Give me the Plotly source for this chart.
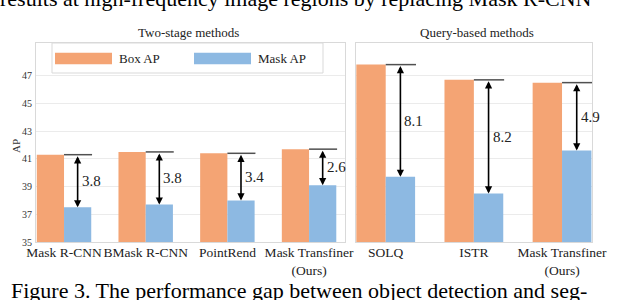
import plotly.graph_objects as go

# ---- data ----
two_stage_methods = ["Mask R-CNN", "BMask R-CNN", "PointRend", "Mask Transfiner<br>(Ours)"]
two_stage_box_ap = [41.3, 41.5, 41.4, 41.7]
two_stage_mask_ap = [37.5, 37.7, 38.0, 39.1]
two_stage_gap = ["3.8", "3.8", "3.4", "2.6"]

query_methods = ["SOLQ", "ISTR", "Mask Transfiner<br>(Ours)"]
query_box_ap = [47.8, 46.7, 46.5]
query_mask_ap = [39.7, 38.5, 41.6]
query_gap = ["8.1", "8.2", "4.9"]

y_ticks = [35, 37, 39, 41, 43, 45, 47]

# ---- style ----
W, H = 640, 300
ORANGE = "#F4A474"
BLUE = "#8DB9E2"
FONT = "Liberation Serif, Times New Roman, serif"
BW = 1 / 3.0

def px(x):
    return x / W

def py(y):
    return 1 - y / H

fig = go.Figure()

panels = [
    (two_stage_methods, two_stage_box_ap, two_stage_mask_ap, two_stage_gap, "x", "y"),
    (query_methods, query_box_ap, query_mask_ap, query_gap, "x2", "y2"),
]

annotations = []
shapes = []
for cats, box, mask, gap, xa, ya in panels:
    idx = list(range(len(cats)))
    fig.add_trace(go.Bar(x=idx, y=box, width=BW, offset=-BW, marker_color=ORANGE,
                         marker_line_width=0, name="Box AP", showlegend=False,
                         xaxis=xa, yaxis=ya, hoverinfo="skip"))
    fig.add_trace(go.Bar(x=idx, y=mask, width=BW, offset=0, marker_color=BLUE,
                         marker_line_width=0, name="Mask AP", showlegend=False,
                         xaxis=xa, yaxis=ya, hoverinfo="skip"))
    for i in idx:
        xc = i + BW / 2
        shapes.append(dict(type="line", xref=xa, yref=ya, x0=i, x1=i + BW * 1.03,
                           y0=box[i], y1=box[i], line=dict(color="#505050", width=1.5)))
        annotations.append(dict(x=xc, y=mask[i], ax=xc, ay=box[i], xref=xa, yref=ya,
                                axref=xa, ayref=ya, text="", showarrow=True,
                                arrowhead=2, startarrowhead=2, arrowside="end+start",
                                arrowsize=0.9, startarrowsize=0.9, arrowwidth=1.6,
                                arrowcolor="black", standoff=0, startstandoff=0))
        annotations.append(dict(x=xc, y=(box[i] + mask[i]) / 2, xref=xa, yref=ya,
                                text=gap[i], showarrow=False, xanchor="left", yanchor="middle",
                                xshift=2, font=dict(family=FONT, size=15, color="#222")))

def paper_text(x, y, text, size, color="#222", xanchor="center", yanchor="middle", **kw):
    annotations.append(dict(x=px(x), y=py(y), xref="paper", yref="paper", text=text,
                            showarrow=False, xanchor=xanchor, yanchor=yanchor,
                            font=dict(family=FONT, size=size, color=color), **kw))

# titles
paper_text(188, 32, "Two-stage methods", 13)
paper_text(477, 33, "Query-based methods", 13)
# AP label
paper_text(16, 146, "AP", 11, color="#333", textangle=-90)
# surrounding document text
paper_text(-2, 12.8, "results at high-frequency image regions by replacing Mask R-CNN", 22,
           color="black", xanchor="left", yanchor="bottom")
paper_text(9, 305, "Figure 3. The performance gap between object detection and seg-", 22,
           color="black", xanchor="left", yanchor="bottom")

# custom legend
shapes.append(dict(type="rect", xref="paper", yref="paper", x0=px(52), x1=px(323), y0=py(43), y1=py(73),
                   line=dict(color="#d9d9d9", width=1), fillcolor="white", layer="above"))
shapes.append(dict(type="rect", xref="paper", yref="paper", x0=px(55), x1=px(112), y0=py(52.7), y1=py(64.3),
                   line=dict(width=0), fillcolor=ORANGE, layer="above"))
shapes.append(dict(type="rect", xref="paper", yref="paper", x0=px(194), x1=px(251), y0=py(52.7), y1=py(64.3),
                   line=dict(width=0), fillcolor=BLUE, layer="above"))
paper_text(117, 58.5, "Box AP", 13, xanchor="left")
paper_text(256, 58.5, "Mask AP", 13, xanchor="left")

y_dom = [py(242), py(43)]
y_rng = [35, 35 + (242 - 43) / ((242 - 75.7) / 12)]
axis_common = dict(showline=True, linecolor="#d9d9d9", linewidth=1, mirror=True, zeroline=False,
                   automargin=False)

fig.update_layout(
    width=W, height=H, margin=dict(l=0, r=0, t=0, b=0, autoexpand=False),
    paper_bgcolor="white", plot_bgcolor="white",
    barmode="overlay", showlegend=False, hovermode=False,
    annotations=annotations, shapes=shapes,
    font=dict(family=FONT, color="#222"),
    xaxis=dict(domain=[px(36), px(345)], range=[-0.343, 3.44], tickvals=list(range(len(two_stage_methods))),
               ticktext=two_stage_methods, showgrid=False, ticks="", tickangle=0, ticklabelstandoff=-2,
               tickfont=dict(family=FONT, size=13.5, color="#222"), **axis_common),
    yaxis=dict(domain=y_dom, range=y_rng, tickvals=y_ticks, showgrid=True, gridcolor="#ebebeb",
               tickfont=dict(family=FONT, size=10, color="#333"), ticks="", ticklabelstandoff=1,
               **axis_common),
    xaxis2=dict(domain=[px(356), px(592)], range=[-0.337, 2.34], tickvals=list(range(len(query_methods))),
                ticktext=query_methods, showgrid=False, ticks="", anchor="y2", tickangle=0,
                ticklabelstandoff=-2,
                tickfont=dict(family=FONT, size=13.5, color="#222"), **axis_common),
    yaxis2=dict(domain=y_dom, range=y_rng, tickvals=y_ticks, showgrid=True, gridcolor="#ebebeb",
                showticklabels=False, ticks="", anchor="x2", **axis_common),
)

fig.write_html("out.html", config={"displayModeBar": False, "staticPlot": True},
               post_script="document.body.style.margin='0px';document.body.style.overflow='hidden';")
